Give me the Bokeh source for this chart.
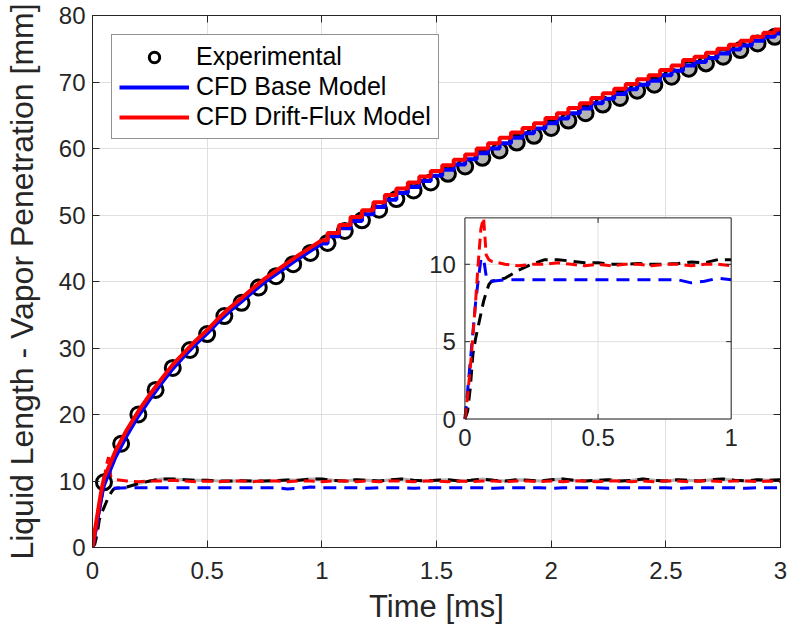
import numpy as np
from bokeh.plotting import figure
from bokeh.models import (Range1d, LinearAxis, FixedTicker, CustomJSTickFormatter,
                          Legend, LegendItem, ColumnDataSource)
from bokeh.embed import file_html
from bokeh.resources import INLINE
from bokeh.core.properties import value

# ---------------- data ----------------
exp_t = [0.05, 0.125, 0.2, 0.275, 0.35, 0.425, 0.5, 0.575, 0.65, 0.725,
         0.8, 0.875, 0.95, 1.025, 1.1, 1.175, 1.25, 1.325, 1.4, 1.475,
         1.55, 1.625, 1.7, 1.775, 1.85, 1.925, 2.0, 2.075, 2.15, 2.225,
         2.3, 2.375, 2.45, 2.525, 2.6, 2.675, 2.75, 2.825, 2.9, 2.975]
exp_pen = [9.8, 15.6, 20.0, 23.7, 27.0, 29.7, 32.1, 34.8, 36.8, 39.1,
           40.8, 42.6, 44.3, 45.8, 47.6, 49.2, 50.8, 52.4, 53.7, 54.9,
           56.2, 57.3, 58.6, 59.7, 60.9, 61.9, 63.1, 64.2, 65.3, 66.6,
           67.6, 68.7, 69.6, 70.8, 72.0, 72.8, 73.8, 74.8, 75.8, 76.8]

cfd_t = [0.0, 0.01, 0.02, 0.03, 0.04, 0.05] + [round(0.05 * k, 2) for k in range(2, 61)]
base_pen = [0.0, 2.0, 4.0, 6.0, 7.9, 9.4,
            13.6, 16.9, 19.8, 22.3, 24.7, 26.9, 28.8, 30.6, 32.2, 34.0,
            35.6, 37.0, 38.5, 39.9, 41.1, 42.3, 43.5, 44.6, 45.7, 46.8,
            48.0, 49.1, 50.1, 51.2, 52.3, 53.3, 54.2, 55.1, 55.9, 56.8,
            57.6, 58.4, 59.3, 60.0, 60.8, 61.6, 62.3, 63.0, 63.8, 64.5,
            65.3, 66.0, 66.8, 67.5, 68.2, 68.9, 69.6, 70.2, 71.0, 71.7,
            72.5, 73.0, 73.6, 74.3, 74.9, 75.5, 76.2, 76.8, 77.3]
drift_pen = [0.0, 2.5, 4.6, 6.8, 8.8, 10.4,
             14.5, 17.7, 20.5, 23.0, 25.3, 27.5, 29.3, 31.1, 32.7, 34.5,
             36.1, 37.5, 39.0, 40.4, 41.6, 42.8, 44.0, 45.1, 46.2, 47.3,
             48.5, 49.7, 50.7, 51.9, 53.0, 54.0, 54.9, 55.8, 56.6, 57.5,
             58.3, 59.1, 60.0, 60.8, 61.6, 62.4, 63.1, 63.8, 64.6, 65.3,
             66.1, 66.8, 67.6, 68.3, 69.0, 69.7, 70.4, 71.0, 71.8, 72.5,
             73.3, 73.8, 74.4, 75.0, 75.6, 76.2, 76.8, 77.4, 77.9]

liq_t = [round(0.01 * k, 2) for k in range(0, 10)] + [round(0.05 * k, 2) for k in range(2, 61)]
exp_liq = [0.0, 0.5, 2.0, 4.2, 5.2, 6.0, 6.8, 7.6, 8.2, 8.7,
           8.9, 9.1, 9.6, 10.0, 10.3, 10.3, 10.2, 10.1, 10.1, 10.0,
           10.0, 10.05, 10.0, 10.0, 10.05, 10.15, 10.1, 10.3, 10.3, 10.1,
           10.0, 10.2, 10.1, 10.0, 10.2, 10.3, 10.1, 10.0, 10.1, 10.2,
           10.0, 10.1, 10.3, 10.1, 10.0, 10.2, 10.1, 10.0, 10.2, 10.3,
           10.1, 10.0, 10.1, 10.2, 10.0, 10.1, 10.3, 10.1, 10.0, 10.2,
           10.1, 10.0, 10.2, 10.3, 10.1, 10.0, 10.2, 10.1, 10.2]
base_liq = [0.0, 1.8, 3.7, 5.6, 7.5, 9.0, 10.3, 10.4, 9.2, 8.9,
            8.9, 9.0, 9.0, 9.0, 9.0, 9.0, 9.0, 9.0, 9.0, 9.0,
            9.0, 9.0, 9.0, 9.0, 9.0, 8.8, 8.9, 9.1, 9.0, 9.0,
            9.0, 9.0, 8.9, 9.0, 9.0, 9.0, 8.9, 9.0, 9.0, 9.0,
            9.0, 9.0, 9.0, 8.9, 9.0, 9.0, 9.0, 9.0, 8.9, 9.0,
            9.0, 9.0, 9.0, 8.9, 9.0, 9.0, 9.0, 9.0, 9.0, 8.9,
            9.0, 9.0, 9.0, 9.0, 9.0, 8.9, 9.0, 9.0, 9.0]
drift_liq = [0.0, 1.5, 3.3, 5.4, 7.6, 10.1, 12.3, 13.6, 10.6, 10.3,
             10.2, 10.0, 9.9, 10.0, 10.0, 10.1, 10.0, 9.9, 10.0, 9.9,
             10.0, 10.0, 9.9, 10.0, 10.0, 9.9, 10.0, 10.0, 9.9, 10.0,
             10.0, 9.9, 10.0, 9.9, 10.0, 10.0, 9.9, 10.0, 10.0, 9.9,
             10.0, 9.9, 10.0, 10.0, 9.9, 10.0, 10.0, 9.9, 10.0, 9.9,
             10.0, 10.0, 9.9, 10.0, 10.0, 9.9, 10.0, 9.9, 10.0, 10.0,
             9.9, 10.0, 10.0, 9.9, 10.0, 10.0, 9.9, 10.0, 9.9]

x_ticks = [0, 0.5, 1, 1.5, 2, 2.5, 3]
y_ticks = [0, 10, 20, 30, 40, 50, 60, 70, 80]
inset_x_ticks = [0, 0.5, 1]
inset_y_ticks = [0, 5, 10]
INSET_X = (0, 1)
INSET_Y = (0, 13)
STEP_FROM = 1.0   # CFD output shown stair-stepped from here on

# ---------------- style ----------------
FONT = "Liberation Sans"
AX = "#262626"
GRID = "#dfdfdf"
RED = "#ff0000"
BLUE = "#0000ff"

p = figure(width=788, height=633, x_range=Range1d(0, 3), y_range=Range1d(0, 80),
           output_backend="svg", toolbar_location=None,
           min_border_left=91, min_border_right=8, min_border_top=15, min_border_bottom=86)
p.background_fill_color = "white"
p.border_fill_color = "white"
p.outline_line_color = AX

bottom_ax = p.below[0]
left_ax = p.left[0]

fmt = CustomJSTickFormatter(code="return tick.toString();")
blank = CustomJSTickFormatter(code="return '';")

top_ax = LinearAxis()
right_ax = LinearAxis()
p.add_layout(top_ax, "above")
p.add_layout(right_ax, "right")

for ax, ticks, lab in [(bottom_ax, x_ticks, True), (top_ax, x_ticks, False),
                       (left_ax, y_ticks, True), (right_ax, y_ticks, False)]:
    ax.ticker = FixedTicker(ticks=ticks)
    ax.major_tick_in = 7
    ax.major_tick_out = 0
    ax.minor_tick_in = 0
    ax.minor_tick_out = 0
    ax.axis_line_color = AX
    ax.major_tick_line_color = AX
    ax.major_label_text_font = FONT
    ax.major_label_text_color = AX
    if lab:
        ax.formatter = fmt
        ax.major_label_text_font_size = "24px"
    else:
        ax.formatter = blank
        ax.major_label_text_font_size = "0px"
        ax.major_label_standoff = 0

bottom_ax.major_label_standoff = 14
left_ax.major_label_standoff = 7
bottom_ax.axis_label = "Time [ms]"
left_ax.axis_label = "Liquid Length - Vapor Penetration [mm]"
for ax in (bottom_ax, left_ax):
    ax.axis_label_text_font = FONT
    ax.axis_label_text_font_style = "normal"
    ax.axis_label_text_color = AX
bottom_ax.axis_label_text_font_size = "31px"
left_ax.axis_label_text_font_size = "32px"
bottom_ax.axis_label_standoff = 7
left_ax.axis_label_standoff = 16

p.xgrid.ticker = FixedTicker(ticks=x_ticks)
p.ygrid.ticker = FixedTicker(ticks=y_ticks)
p.grid.grid_line_color = GRID
p.grid.grid_line_width = 1

# ---------------- main plot ----------------
liq_src = ColumnDataSource(dict(t=liq_t, e=exp_liq, b=base_liq, d=drift_liq))
gray_idx = [i for i, t in enumerate(liq_t) if t >= 0.2]
gray_src = ColumnDataSource(dict(t=[liq_t[i] for i in gray_idx], e=[exp_liq[i] for i in gray_idx]))

p.line("t", "e", source=gray_src, line_color="#b3b3b3", line_width=3)
p.line("t", "e", source=liq_src, line_color="black", line_width=3, line_dash="12 7")
p.line("t", "b", source=liq_src, line_color=BLUE, line_width=3, line_dash="13 8")
p.line("t", "d", source=liq_src, line_color=RED, line_width=3, line_dash="11 6")

exp_src = ColumnDataSource(dict(t=exp_t, y=exp_pen,
                                fill=["white" if t < 1.5 else "#b4b4b4" for t in exp_t]))
r_exp = p.scatter("t", "y", source=exp_src, marker="circle", size=15,
                  line_color="black", line_width=3, fill_color="fill")

early = [i for i, t in enumerate(cfd_t) if t <= STEP_FROM]
late = [i for i, t in enumerate(cfd_t) if t >= STEP_FROM]
cfd_early = ColumnDataSource(dict(t=[cfd_t[i] for i in early], b=[base_pen[i] for i in early],
                                  d=[drift_pen[i] for i in early]))
cfd_late = ColumnDataSource(dict(t=[cfd_t[i] for i in late], b=[base_pen[i] for i in late],
                                 d=[drift_pen[i] for i in late]))
r_base = p.line("t", "b", source=cfd_early, line_color=BLUE, line_width=4)
r_base2 = p.step("t", "b", source=cfd_late, mode="center", line_color=BLUE, line_width=4)
r_drift = p.line("t", "d", source=cfd_early, line_color=RED, line_width=4)
r_drift2 = p.step("t", "d", source=cfd_late, mode="center", line_color=RED, line_width=4)

legend = Legend(items=[LegendItem(label="Experimental", renderers=[r_exp], index=0),
                       LegendItem(label="CFD Base Model", renderers=[r_base]),
                       LegendItem(label="CFD Drift-Flux Model", renderers=[r_drift])],
                location="top_left", margin=19, padding=7, spacing=1,
                glyph_width=70, glyph_height=26, label_height=26, label_standoff=7,
                label_text_font=FONT, label_text_font_size="25px", label_text_color="black",
                border_line_color=AX, border_line_width=1,
                background_fill_color="white", background_fill_alpha=1.0)
p.add_layout(legend)

# ---------------- inset ----------------
sub = p.subplot(x_source=Range1d(*INSET_X), y_source=Range1d(*INSET_Y),
                x_target=Range1d(1.624, 2.785), y_target=Range1d(19.32, 49.57))

sub.quad(left=[INSET_X[0]], right=[INSET_X[1]], bottom=[INSET_Y[0]], top=[INSET_Y[1]],
         fill_color="white", line_color=None)
sub.segment(x0=inset_x_ticks, y0=[INSET_Y[0]] * 3, x1=inset_x_ticks, y1=[INSET_Y[1]] * 3,
            line_color=GRID, line_width=1)
sub.segment(x0=[INSET_X[0]] * 3, y0=inset_y_ticks, x1=[INSET_X[1]] * 3, y1=inset_y_ticks,
            line_color=GRID, line_width=1)

sel = [i for i, t in enumerate(liq_t) if t <= INSET_X[1]]
ins_src = ColumnDataSource(dict(
    t=[liq_t[i] for i in sel],
    e=list(np.clip([exp_liq[i] for i in sel], *INSET_Y)),
    b=list(np.clip([base_liq[i] for i in sel], *INSET_Y)),
    d=list(np.clip([drift_liq[i] for i in sel], *INSET_Y))))
sub.line("t", "e", source=ins_src, line_color="black", line_width=3, line_dash="12 7")
sub.line("t", "b", source=ins_src, line_color=BLUE, line_width=3, line_dash="13 8")
sub.line("t", "d", source=ins_src, line_color=RED, line_width=3, line_dash="11 6")

sub.quad(left=[INSET_X[0]], right=[INSET_X[1]], bottom=[INSET_Y[0]], top=[INSET_Y[1]],
         fill_color=None, line_color=AX, line_width=1)
sub.ray(x=inset_x_ticks[1:-1], y=[INSET_Y[0]], length=5, length_units="screen",
        angle=np.pi / 2, line_color=AX, line_width=1)
sub.ray(x=inset_x_ticks[1:-1], y=[INSET_Y[1]], length=5, length_units="screen",
        angle=-np.pi / 2, line_color=AX, line_width=1)
sub.ray(x=[INSET_X[0]] * 2, y=inset_y_ticks[1:], length=5, length_units="screen",
        angle=0, line_color=AX, line_width=1)
sub.ray(x=[INSET_X[1]] * 2, y=inset_y_ticks[1:], length=5, length_units="screen",
        angle=np.pi, line_color=AX, line_width=1)

sub.text(x=inset_x_ticks, y=[INSET_Y[0]] * 3, text=[str(v) for v in inset_x_ticks],
         text_align="center", text_baseline="top", y_offset=10,
         text_font=value(FONT), text_font_size=value("24px"), text_color=AX)
sub.text(x=[INSET_X[0]] * 3, y=inset_y_ticks, text=[str(v) for v in inset_y_ticks],
         text_align="right", text_baseline="middle", x_offset=-9,
         text_font=value(FONT), text_font_size=value("24px"), text_color=AX)

open("out.html", "w").write(file_html(p, INLINE))
